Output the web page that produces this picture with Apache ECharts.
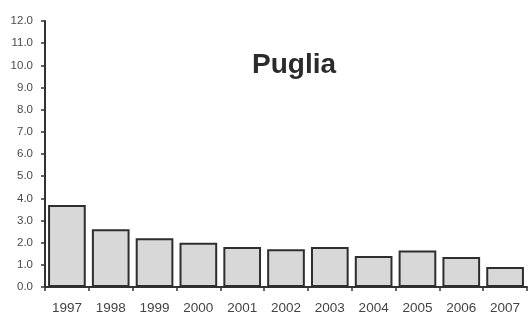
<!DOCTYPE html>
<html>
<head>
<meta charset="utf-8">
<script src="https://cdn.jsdelivr.net/npm/echarts@6/dist/echarts.min.js"></script>
<style>
  html, body { margin: 0; padding: 0; background: #fff; }
  #chart { width: 528px; height: 313px; }
</style>
</head>
<body>
<div id="chart"></div>
<script>
// data
var years = ["1997", "1998", "1999", "2000", "2001", "2002", "2003", "2004", "2005", "2006", "2007"];
var values = [3.7, 2.6, 2.2, 2.0, 1.8, 1.7, 1.8, 1.4, 1.65, 1.35, 0.9];
var title = "Puglia";

var myChart = echarts.init(document.getElementById("chart"));
var option = {
  backgroundColor: "#fff",
  animation: false,
  title: {
    text: title,
    left: 247,
    top: 46,
    textStyle: {
      fontFamily: "Liberation Sans",
      fontSize: 28,
      fontWeight: "bold",
      color: "#2b2b2b",
    },
  },
  grid: { left: 45, right: 1, top: 21, bottom: 26, outerBoundsMode: "none" },
  xAxis: {
    type: "category",
    data: years,
    axisLine: { lineStyle: { color: "#333", width: 2 } },
    axisTick: { show: true, length: 4, lineStyle: { color: "#333", width: 1.5 } },
    axisLabel: {
      margin: 14,
      fontFamily: "Liberation Sans",
      fontSize: 13.5,
      color: "#444",
    },
  },
  yAxis: {
    type: "value",
    min: 0,
    max: 12,
    interval: 1,
    splitLine: { show: false },
    axisLine: { show: true, lineStyle: { color: "#333", width: 2 } },
    axisTick: { show: true, length: 4, lineStyle: { color: "#333", width: 1.5 } },
    axisLabel: {
      margin: 12,
      fontFamily: "Liberation Sans",
      fontSize: 11.5,
      color: "#4a4a4a",
      formatter: function (v) {
        return v.toFixed(1);
      },
    },
  },
  series: [
    {
      type: "bar",
      data: values,
      barCategoryGap: "14%",
      itemStyle: {
        color: "#d8d8d8",
        borderColor: "#2e2e2e",
        borderWidth: 2,
      },
    },
  ],
};
myChart.setOption(option, true);
</script>
</body>
</html>
